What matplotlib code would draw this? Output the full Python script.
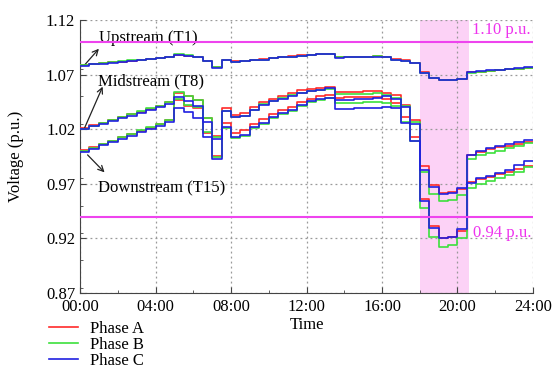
import numpy as np
import matplotlib
matplotlib.use("Agg")
import matplotlib.pyplot as plt
from matplotlib.ticker import MultipleLocator, FuncFormatter

plt.rcParams['font.family'] = ['Liberation Serif', 'DejaVu Serif']

# half-hour steps, 00:00 .. 23:30
hours = np.arange(0, 24, 0.5)

up_A = [1.0785, 1.0795, 1.0803, 1.0812, 1.0820, 1.0828, 1.0836, 1.0843, 1.0850, 1.0860,
        1.0880, 1.0875, 1.0862, 1.0825, 1.0768, 1.0835, 1.0822, 1.0827, 1.0832, 1.0840,
        1.0850, 1.0860, 1.0868, 1.0876, 1.0884, 1.0890, 1.0892, 1.0862, 1.0862, 1.0864,
        1.0866, 1.0868, 1.0862, 1.0840, 1.0830, 1.0810, 1.0720, 1.0672, 1.0655, 1.0655,
        1.0660, 1.0720, 1.0728, 1.0735, 1.0742, 1.0750, 1.0756, 1.0762]
up_B = [1.0785, 1.0795, 1.0803, 1.0812, 1.0821, 1.0830, 1.0838, 1.0846, 1.0853, 1.0864,
        1.0886, 1.0881, 1.0866, 1.0826, 1.0766, 1.0832, 1.0820, 1.0825, 1.0830, 1.0838,
        1.0848, 1.0858, 1.0866, 1.0874, 1.0882, 1.0888, 1.0890, 1.0858, 1.0860, 1.0863,
        1.0866, 1.0868, 1.0860, 1.0838, 1.0828, 1.0806, 1.0716, 1.0666, 1.0650, 1.0650,
        1.0656, 1.0718, 1.0726, 1.0734, 1.0741, 1.0749, 1.0756, 1.0762]
up_C = [1.0783, 1.0793, 1.0801, 1.0810, 1.0818, 1.0826, 1.0834, 1.0841, 1.0848, 1.0857,
        1.0876, 1.0870, 1.0858, 1.0822, 1.0764, 1.0832, 1.0820, 1.0824, 1.0830, 1.0838,
        1.0848, 1.0858, 1.0866, 1.0874, 1.0882, 1.0888, 1.0890, 1.0856, 1.0858, 1.0860,
        1.0862, 1.0864, 1.0858, 1.0838, 1.0828, 1.0808, 1.0718, 1.0668, 1.0653, 1.0653,
        1.0658, 1.0721, 1.0730, 1.0738, 1.0745, 1.0752, 1.0759, 1.0766]

mid_A = [1.0215, 1.0235, 1.0260, 1.0285, 1.0310, 1.0335, 1.0360, 1.0385, 1.0410, 1.0445,
         1.0530, 1.0500, 1.0465, 1.0305, 1.0135, 1.0390, 1.0330, 1.0350, 1.0400, 1.0450,
         1.0480, 1.0505, 1.0530, 1.0555, 1.0570, 1.0580, 1.0585, 1.0540, 1.0542, 1.0545,
         1.0547, 1.0550, 1.0530, 1.0510, 1.0420, 1.0280, 0.9860, 0.9690, 0.9620, 0.9625,
         0.9655, 0.9965, 0.9995, 1.0015, 1.0035, 1.0050, 1.0065, 1.0085]
mid_B = [1.0205, 1.0230, 1.0258, 1.0285, 1.0312, 1.0340, 1.0365, 1.0390, 1.0415, 1.0450,
         1.0543, 1.0508, 1.0470, 1.0300, 1.0125, 1.0370, 1.0310, 1.0325, 1.0380, 1.0430,
         1.0460, 1.0488, 1.0512, 1.0535, 1.0550, 1.0560, 1.0565, 1.0520, 1.0522, 1.0525,
         1.0527, 1.0530, 1.0510, 1.0490, 1.0410, 1.0270, 0.9810, 0.9610, 0.9540, 0.9552,
         0.9598, 0.9925, 0.9960, 0.9985, 1.0005, 1.0025, 1.0045, 1.0070]
mid_C = [1.0200, 1.0225, 1.0250, 1.0275, 1.0300, 1.0325, 1.0350, 1.0375, 1.0400, 1.0430,
         1.0495, 1.0455, 1.0410, 1.0270, 1.0110, 1.0370, 1.0310, 1.0325, 1.0375, 1.0425,
         1.0455, 1.0480, 1.0505, 1.0530, 1.0548, 1.0560, 1.0582, 1.0470, 1.0472, 1.0475,
         1.0480, 1.0485, 1.0500, 1.0480, 1.0400, 1.0250, 0.9827, 0.9674, 0.9607, 0.9615,
         0.9659, 0.9965, 1.0000, 1.0025, 1.0045, 1.0065, 1.0080, 1.0100]

down_A = [1.0010, 1.0035, 1.0065, 1.0095, 1.0125, 1.0155, 1.0185, 1.0215, 1.0245, 1.0280,
          1.0470, 1.0415, 1.0390, 1.0170, 0.9957, 1.0260, 1.0170, 1.0190, 1.0250, 1.0290,
          1.0340, 1.0375, 1.0405, 1.0450, 1.0480, 1.0500, 1.0510, 1.0490, 1.0492, 1.0494,
          1.0496, 1.0498, 1.0480, 1.0440, 1.0310, 1.0130, 0.9558, 0.9314, 0.9200, 0.9216,
          0.9270, 0.9715, 0.9745, 0.9765, 0.9790, 0.9810, 0.9835, 0.9860]
down_B = [1.0000, 1.0030, 1.0062, 1.0095, 1.0128, 1.0160, 1.0190, 1.0220, 1.0250, 1.0285,
          1.0480, 1.0420, 1.0400, 1.0175, 0.9950, 1.0210, 1.0120, 1.0140, 1.0210, 1.0250,
          1.0300, 1.0335, 1.0370, 1.0410, 1.0445, 1.0470, 1.0490, 1.0440, 1.0442, 1.0444,
          1.0446, 1.0448, 1.0440, 1.0410, 1.0270, 1.0090, 0.9476, 0.9216, 0.9120, 0.9140,
          0.9200, 0.9660, 0.9700, 0.9725, 0.9750, 0.9780, 0.9810, 0.9850]
down_C = [0.9995, 1.0022, 1.0052, 1.0082, 1.0112, 1.0142, 1.0172, 1.0202, 1.0232, 1.0265,
          1.0395, 1.0360, 1.0300, 1.0126, 0.9927, 1.0220, 1.0130, 1.0150, 1.0220, 1.0260,
          1.0310, 1.0345, 1.0380, 1.0420, 1.0455, 1.0475, 1.0485, 1.0385, 1.0387, 1.0390,
          1.0392, 1.0395, 1.0400, 1.0390, 1.0260, 1.0090, 0.9540, 0.9300, 0.9200, 0.9216,
          0.9283, 0.9710, 0.9750, 0.9775, 0.9800, 0.9830, 0.9870, 0.9905]

upper_limit = 1.10
lower_limit = 0.94
peak_start, peak_end = 18.0, 20.6

phase_labels = ['Phase A', 'Phase B', 'Phase C']
phase_colors = ['#ff2a2a', '#3ce03c', '#2020e0']
x_ticks = [0, 4, 8, 12, 16, 20, 24]
x_tick_labels = ['00:00', '04:00', '08:00', '12:00', '16:00', '20:00', '24:00']
y_ticks = [0.87, 0.92, 0.97, 1.02, 1.07, 1.12]

fig = plt.figure(figsize=(5.53, 3.71), dpi=100)
ax = fig.add_axes([0.1447, 0.2102, 0.8191, 0.7358])

ax.axvspan(peak_start, peak_end, color='#fcd2f6', zorder=0, lw=0)

xs = np.append(hours, 24)
groups = [(up_A, up_B, up_C), (mid_A, mid_B, mid_C), (down_A, down_B, down_C)]
handles = []
for g in groups:
    for i, series in enumerate(g):
        ys = np.append(series, series[-1])
        h, = ax.step(xs, ys, where='post', color=phase_colors[i], lw=1.2, zorder=3 + i * 0.1)
        if len(handles) < 3:
            handles.append(h)

ax.axhline(upper_limit, color='#ee44ee', lw=1.5, zorder=4)
ax.axhline(lower_limit, color='#ee44ee', lw=1.5, zorder=4)
ax.text(23.85, upper_limit + 0.004, '1.10 p.u.', color='#ee33ee', fontsize=12, ha='right', va='bottom', zorder=5)
ax.text(23.9, lower_limit - 0.0075, '0.94 p.u.', color='#ee33ee', fontsize=12, ha='right', va='top', zorder=5)

ax.set_xlim(0, 24)
ax.set_ylim(0.87, 1.12)
ax.set_xticks(x_ticks)
ax.set_xticklabels(x_tick_labels)
ax.set_yticks(y_ticks)
ax.yaxis.set_major_formatter(FuncFormatter(lambda v, p: f'{v:.2f}'))
ax.xaxis.set_minor_locator(MultipleLocator(2))
ax.yaxis.set_minor_locator(MultipleLocator(0.025))
ax.tick_params(which='both', direction='in', labelsize=12, color='#444444')
ax.tick_params(axis='x', which='major', pad=4)
ax.tick_params(which='major', length=4)
ax.tick_params(which='minor', length=2.5)
ax.grid(True, which='major', linestyle=(0, (1.5, 2.5)), color='#999999', lw=0.9)
for s in ['top', 'right']:
    ax.spines[s].set_visible(False)
for s in ['left', 'bottom']:
    ax.spines[s].set_color('#444444')
ax.set_xlabel('Time', fontsize=12, labelpad=2)
ax.set_ylabel('Voltage (p.u.)', fontsize=12, labelpad=16)

# annotations
arrow = dict(arrowstyle='->', color='#222222', lw=0.9, shrinkA=0, shrinkB=0)
ax.annotate('', xy=(1.0, 1.0937), xytext=(0.25, 1.0790), arrowprops=arrow)
ax.text(1.0, 1.1040, 'Upstream (T1)', fontsize=12, va='center', ha='left')
ax.annotate('', xy=(1.2, 1.0590), xytext=(0.25, 1.0215), arrowprops=arrow)
ax.text(0.95, 1.0640, 'Midstream (T8)', fontsize=12, va='center', ha='left')
ax.annotate('', xy=(1.3, 0.9805), xytext=(0.4, 0.9965), arrowprops=arrow)
ax.text(0.95, 0.9660, 'Downstream (T15)', fontsize=12, va='center', ha='left')

fig.legend(handles, phase_labels, loc='upper left', bbox_to_anchor=(0.088, 0.135),
           frameon=False, fontsize=12, handlelength=1.75, handletextpad=0.75,
           labelspacing=0.0, borderpad=0, borderaxespad=0)

fig.savefig('out.png', dpi=100)
